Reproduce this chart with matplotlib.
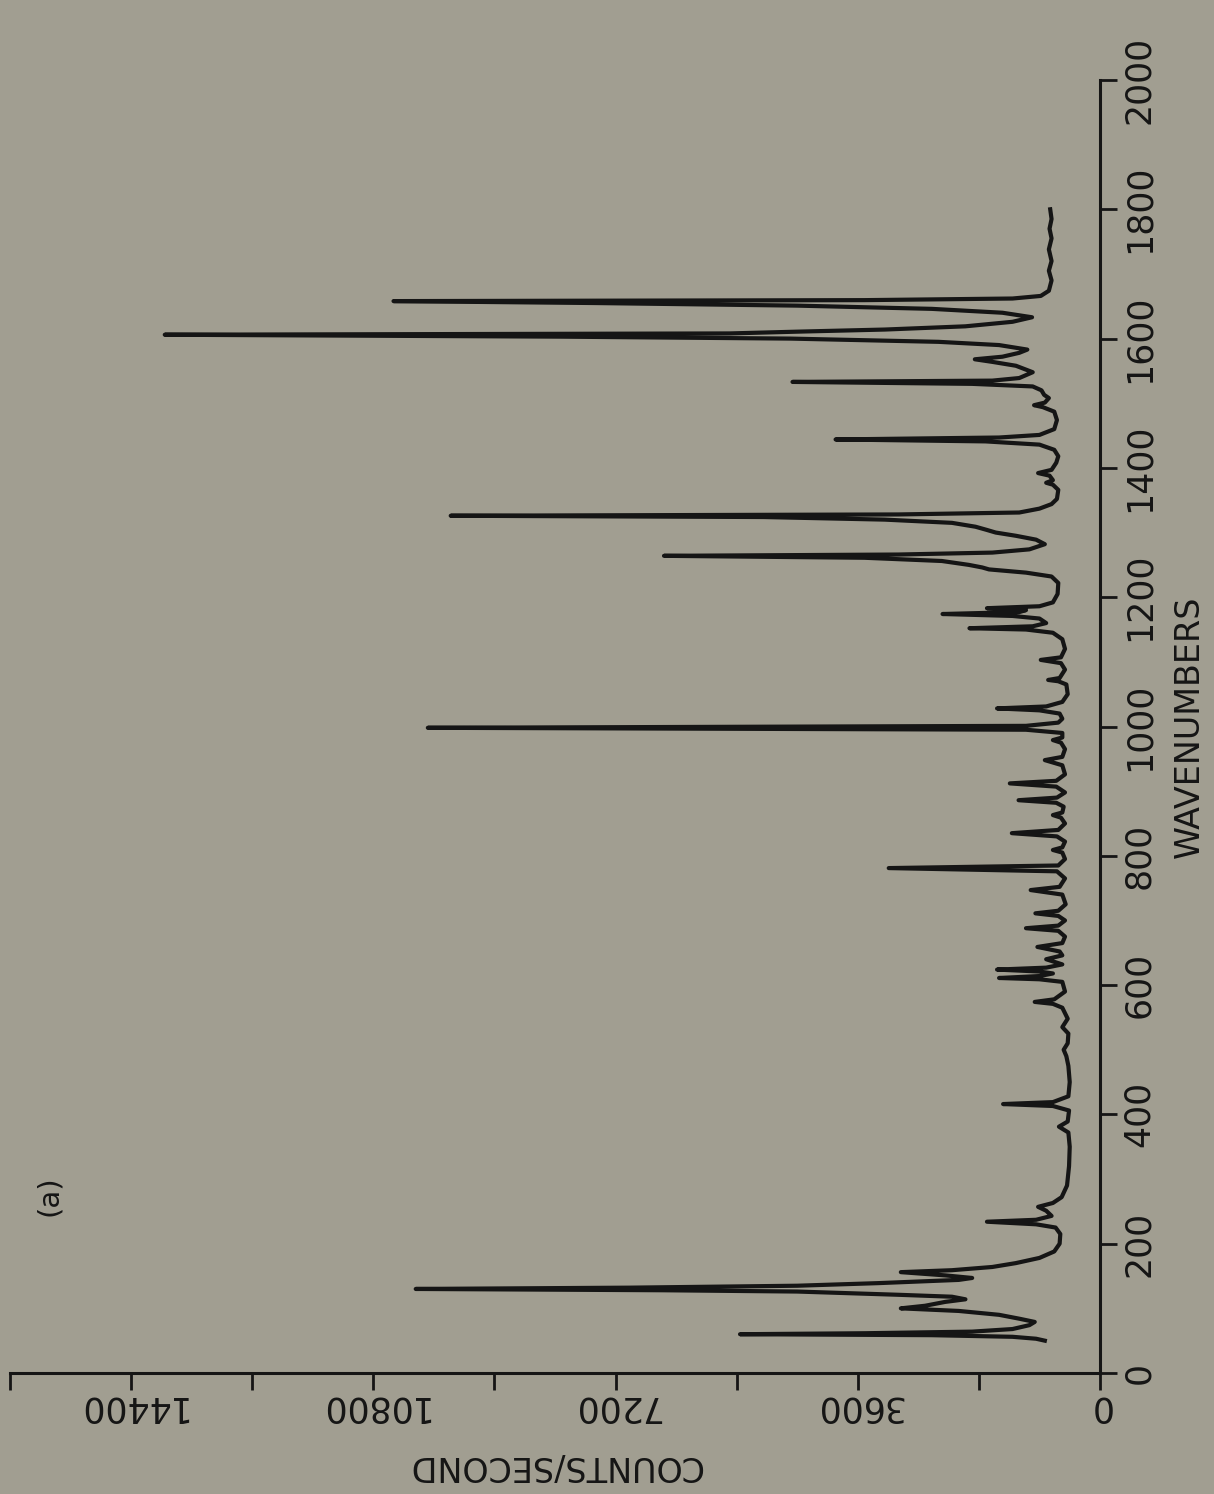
import matplotlib.pyplot as plt

# Raman trace: wavenumber (cm-1) and counts/second
wavenumber = [
    50, 53, 56, 58.5, 60, 61.5, 64, 68, 74, 79,
    84, 90, 96, 100, 104, 110, 114, 118, 121, 124,
    126, 128, 130, 132, 135, 139, 144, 147, 151, 156,
    159, 164, 170, 178, 188, 200, 215, 225, 230, 234,
    237, 243, 251, 257, 263, 272, 290, 320, 350, 372,
    381, 389, 406, 413, 416, 419, 428, 450, 475, 490,
    500, 510, 525, 535, 548, 565, 571, 574, 578, 590,
    605, 609, 611, 614, 618, 621, 624, 627, 632, 640,
    646, 652, 659, 665, 675, 684, 688, 692, 700, 707,
    711, 715, 725, 740, 747, 752, 765, 776, 781, 785,
    795, 805, 809, 813, 822, 830, 835, 840, 850, 859,
    863, 867, 876, 882, 886, 890, 898, 907, 912, 916,
    926, 940, 948, 953, 965, 975, 979, 983, 990, 995,
    998, 1001, 1006, 1012, 1020, 1025, 1028, 1031, 1038, 1050,
    1065, 1070, 1072, 1075, 1088, 1098, 1103, 1107, 1120, 1135,
    1145, 1150, 1152, 1155, 1160, 1167, 1171, 1174, 1177, 1180,
    1183, 1186, 1192, 1205, 1222, 1232, 1238, 1243, 1246, 1250,
    1256, 1261, 1264, 1266, 1269, 1274, 1282, 1289, 1295, 1300,
    1304, 1309, 1315, 1320, 1324, 1326, 1328, 1331, 1337, 1344,
    1352, 1366, 1374, 1377, 1381, 1388, 1392, 1397, 1408, 1418,
    1428, 1436, 1441, 1444, 1447, 1451, 1460, 1474, 1487, 1494,
    1497, 1501, 1508, 1513, 1520, 1526, 1530, 1533, 1535, 1539,
    1548, 1558, 1564, 1568, 1572, 1578, 1583, 1590, 1595, 1600,
    1603, 1606, 1608, 1611, 1614, 1619, 1626, 1633, 1640, 1646,
    1651, 1655, 1658, 1659.5, 1662, 1666, 1674, 1690, 1705, 1720,
    1738, 1755, 1770, 1785, 1800,
]
counts = [
    820, 950, 1300, 2500, 5350, 3500, 1900, 1300, 1050, 970,
    1200, 1500, 2100, 2960, 2600, 2300, 2000, 2200, 3000, 3900,
    4500, 6500, 10170, 7000, 4500, 3300, 2100, 1900, 2300, 2960,
    2200, 1600, 1250, 900, 680, 600, 590, 660, 950, 1680,
    950, 720, 800, 920, 700, 570, 490, 460, 450, 470,
    610, 480, 460, 700, 1440, 700, 470, 450, 470, 500,
    540, 480, 470, 560, 480, 560, 700, 970, 680, 520,
    560, 900, 1500, 900, 700, 900, 1530, 800, 560, 800,
    560, 600, 930, 560, 520, 620, 1100, 620, 520, 620,
    960, 620, 510, 560, 1030, 600, 520, 640, 3140, 620,
    520, 560, 700, 560, 520, 640, 1310, 620, 520, 580,
    700, 560, 540, 650, 1210, 640, 520, 650, 1340, 650,
    520, 560, 820, 560, 520, 580, 700, 560, 560, 1100,
    9990, 1100, 620, 560, 600, 900, 1530, 800, 560, 480,
    500, 620, 770, 600, 520, 580, 880, 580, 520, 560,
    700, 1100, 1940, 1000, 800, 900, 1300, 2340, 1200, 1100,
    1680, 900, 700, 630, 620, 720, 1100, 1650, 1750, 1950,
    2350, 3500, 6480, 3000, 1600, 1050, 820, 950, 1250, 1550,
    1680, 1850, 2200, 3200, 5000, 9650, 3000, 1200, 900, 720,
    640, 620, 700, 800, 700, 750, 920, 720, 650, 620,
    680, 900, 1700, 3930, 1500, 900, 680, 640, 680, 850,
    980, 820, 760, 830, 870, 1000, 1900, 4570, 1600, 1200,
    1000, 1250, 1600, 1860, 1450, 1200, 1080, 1500, 2400, 4600,
    8000, 13900, 5500, 4400, 3200, 2000, 1300, 1010, 1450, 2500,
    4500, 7500, 10500, 3500, 1300, 880, 760, 720, 760, 720,
    760, 720, 750, 720, 740,
]

count_ticks = [0, 3600, 7200, 10800, 14400]
count_minor = [1800, 5400, 9000, 12600, 16200]
wn_ticks = [0, 200, 400, 600, 800, 1000, 1200, 1400, 1600, 1800, 2000]

paper = "#a19e91"
ink = "#151515"

plt.rcParams["font.family"] = "DejaVu Sans"

fig = plt.figure(figsize=(12.14, 14.94), dpi=100, facecolor=paper)
# chart is mounted sideways: counts run right-to-left, wavenumber bottom-to-top
ax = fig.add_axes([10 / 1214, 1 - 1373 / 1494, 1090 / 1214, 1293 / 1494])
ax.set_facecolor(paper)

ax.plot(counts, wavenumber, color=ink, lw=3.0, solid_joinstyle="round")

ax.set_xlim(16200, 0)
ax.set_ylim(0, 2000)

for side in ("left", "top"):
    ax.spines[side].set_visible(False)
for side in ("right", "bottom"):
    ax.spines[side].set_linewidth(2.2)
    ax.spines[side].set_color(ink)

ax.yaxis.tick_right()
ax.yaxis.set_label_position("right")
ax.set_xticks(count_ticks)
ax.set_xticks(count_minor, minor=True)
ax.set_yticks(wn_ticks)

ax.tick_params(axis="both", which="both", direction="out", length=12, width=2,
               color=ink, labelcolor=ink, labelsize=25)
ax.tick_params(axis="x", which="both", pad=0, labelrotation=180)
ax.tick_params(axis="y", pad=4, labelrotation=90)
for lbl in ax.get_yticklabels():
    lbl.set_va("center")

ax.set_xlabel("COUNTS/SECOND", rotation=180, fontsize=24, color=ink, labelpad=18)
ax.set_ylabel("WAVENUMBERS", rotation=90, fontsize=24, color=ink, labelpad=12)

ax.text(15620, 275, "(a)", rotation=90, fontsize=21, color=ink,
        ha="center", va="center")

fig.savefig("out.png", dpi=100, facecolor=paper)
